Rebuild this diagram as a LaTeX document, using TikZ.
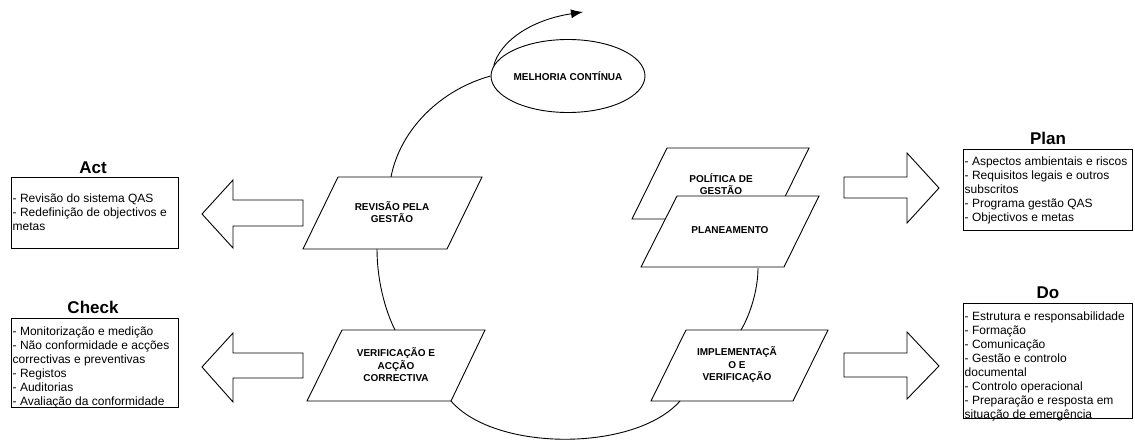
\documentclass[tikz,border=0pt]{standalone}
\usepackage{fontspec}
\setmainfont{Liberation Sans}
\usetikzlibrary{arrows.meta,shapes.geometric,backgrounds}
\begin{document}
\begin{tikzpicture}[x=1pt,y=1pt,
  lw/.style={line width=0.9pt},
  listbox/.style={draw, lw, rectangle, inner sep=0, anchor=north west},
  listtext/.style={anchor=north west, inner sep=0, align=left, font=\fontsize{12}{14}\selectfont},
  titletext/.style={inner sep=0, font=\fontsize{17}{20}\selectfont\bfseries},
  paratext/.style={inner sep=0, align=center, font=\fontsize{10}{12.5}\selectfont\bfseries},
  paraline/.style={draw, lw, line join=miter},
  blockarrow/.style={draw, lw, line join=miter},
  conn/.style={draw, lw},
  ell/.style={ellipse, draw, lw, fill=white, inner sep=0, minimum width=153, minimum height=73, font=\fontsize{10}{12}\selectfont\bfseries}
]
\useasboundingbox (0,0) rectangle (1135,-441);

% ---------- side panels ----------
\node[titletext] (acttitle) at (93,-168) {Act};
\node[listbox, minimum width=167, minimum height=71] (actbox) at (11,-177) {};
\node[listtext] (acttext) at (12.5,-193.5) {- Revisão do sistema QAS\\- Redefinição de objectivos e\\metas};

\node[titletext] (checktitle) at (93,-307) {Check};
\node[listbox, minimum width=167, minimum height=89] (checkbox) at (11,-318) {};
\node[listtext] (checktext) at (12.5,-326.5) {- Monitorização e medição\\- Não conformidade e acções\\correctivas e preventivas\\- Registos\\- Auditorias\\- Avaliação da conformidade};

\node[titletext] (plantitle) at (1048,-138) {Plan};
\node[listbox, minimum width=169, minimum height=81] (planbox) at (963,-149) {};
\node[listtext] (plantext) at (964.5,-156.5) {- Aspectos ambientais e riscos\\- Requisitos legais e outros\\subscritos\\- Programa gestão QAS\\- Objectivos e metas};

\node[titletext] (dotitle) at (1048,-293) {Do};
\node[listbox, minimum width=169, minimum height=115] (dobox) at (963,-303) {};
\node[listtext] (dotext) at (964.5,-311.5) {- Estrutura e responsabilidade\\- Formação\\- Comunicação\\- Gestão e controlo\\documental\\- Controlo operacional\\- Preparação e resposta em\\situação de emergência};

% ---------- block arrows ----------
\draw[blockarrow] (303,-200) -- (233,-200) -- (233,-180) -- (202,-214) -- (233,-248) -- (233,-226) -- (303,-226) -- cycle;
\draw[blockarrow] (303,-353) -- (233,-353) -- (233,-333) -- (202,-367) -- (233,-402) -- (233,-378) -- (303,-378) -- cycle;
\draw[blockarrow] (844,-177) -- (907,-177) -- (907,-153) -- (939,-188) -- (907,-223) -- (907,-198) -- (844,-198) -- cycle;
\draw[blockarrow] (844,-353) -- (907,-353) -- (907,-332) -- (939,-366) -- (907,-399) -- (907,-377) -- (844,-377) -- cycle;

% ---------- parallelograms ----------
\draw[paraline] (338,-177) -- (482,-177) -- (447,-249) -- (303,-249) -- cycle;
\draw[paraline] (667,-148) -- (809,-148) -- (774,-219) -- (632,-219) -- cycle;
\draw[paraline, fill=white] (677,-196) -- (819,-196) -- (784,-267) -- (641,-267) -- cycle;
\draw[paraline] (342,-330) -- (485,-330) -- (451,-401) -- (307,-401) -- cycle;
\draw[paraline] (686,-330) -- (828,-330) -- (793,-401) -- (651,-401) -- cycle;

\node[paratext] (rev) at (392,-212) {REVISÃO PELA\\GESTÃO};
\node[paratext] (pol) at (721,-184) {POLÍTICA DE\\GESTÃO};
\node[paratext] (pla) at (730,-230) {PLANEAMENTO};
\node[paratext] (ver) at (396,-365) {VERIFICAÇÃO E\\ACÇÃO\\CORRECTIVA};
\node[paratext] (imp) at (737,-365) {IMPLEMENTAÇÃ\\O E\\VERIFICAÇÃO};

% ---------- ellipse ----------
\node[ell] (mel) at (568,-76) {MELHORIA CONTÍNUA};

% ---------- connector end points ----------
\coordinate (revT) at (391,-177);
\coordinate (revB) at (377,-249);
\coordinate (verT) at (395,-330);
\coordinate (verB) at (451,-401);
\coordinate (plaB) at (758,-268);
\coordinate (impT) at (741,-330);
\coordinate (impB) at (680,-401);
\coordinate (tip) at (583,-12);

\begin{scope}[on background layer]
\draw[conn] (revT) .. controls (400,-130) and (440,-90) .. (mel.west);
\draw[conn, -{Latex[length=12pt,width=9pt]}] (mel.172) .. controls (500,-42) and (530,-20) .. (tip);
\draw[conn] (revB) .. controls (377,-280) and (385,-310) .. (verT);
\draw[conn] (plaB) .. controls (758,-290) and (750,-315) .. (impT);
\draw[conn] (verB) .. controls (495,-452) and (635,-452) .. (impB);
\end{scope}
\end{tikzpicture}
\end{document}
